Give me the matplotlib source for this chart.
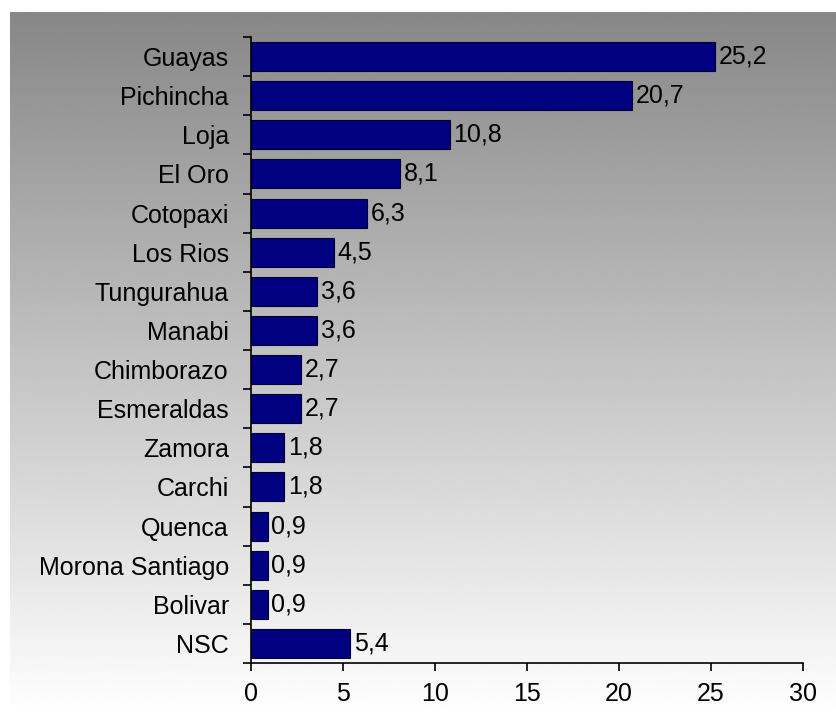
import matplotlib.pyplot as plt
import numpy as np

provinces = ["Guayas", "Pichincha", "Loja", "El Oro", "Cotopaxi", "Los Rios",
             "Tungurahua", "Manabi", "Chimborazo", "Esmeraldas", "Zamora",
             "Carchi", "Quenca", "Morona Santiago", "Bolivar", "NSC"]
percent = [25.2, 20.7, 10.8, 8.1, 6.3, 4.5, 3.6, 3.6, 2.7, 2.7, 1.8, 1.8,
           0.9, 0.9, 0.9, 5.4]
x_ticks = [0, 5, 10, 15, 20, 25, 30]

plt.rcParams["font.family"] = ["Liberation Sans", "DejaVu Sans"]
FS = 18

fig = plt.figure(figsize=(8.37, 7.15), dpi=100)

# grey-to-white vertical gradient behind the chart
bg = fig.add_axes([10 / 837, 0, 1 - 10 / 837, 1 - 12 / 715], zorder=0)
grad = np.linspace(0.53, 1.0, 256).reshape(-1, 1)
bg.imshow(grad, aspect="auto", cmap="gray", vmin=0, vmax=1,
          extent=[0, 1, 0, 1], origin="upper")
bg.set_axis_off()

ax = fig.add_axes([251 / 837, 1 - 663 / 715, (803 - 251) / 837, (663 - 37) / 715],
                  zorder=1)
ax.patch.set_alpha(0)

y = np.arange(len(provinces))
ax.barh(y, percent, height=0.74, color="#000080", edgecolor="#000030",
        linewidth=0.8)
for yi, v in zip(y, percent):
    ax.text(v + 0.2, yi, f"{v:.1f}".replace(".", ","), va="center",
            ha="left", fontsize=FS)

ax.set_xlim(0, 30)
ax.set_ylim(len(provinces) - 0.5, -0.5)
ax.set_xticks(x_ticks)
ax.set_xticklabels([str(t) for t in x_ticks], fontsize=FS)
ax.set_yticks(y)
ax.set_yticklabels(provinces, fontsize=FS)
ax.tick_params(axis="y", length=0, pad=16)
ax.set_yticks(np.arange(-0.5, len(provinces)), minor=True)
ax.tick_params(axis="y", which="minor", length=6, width=1.2)
ax.tick_params(axis="x", length=6, width=1.2, direction="out", pad=8)

for side in ("top", "right"):
    ax.spines[side].set_visible(False)
for side in ("left", "bottom"):
    ax.spines[side].set_linewidth(1.2)

fig.savefig("out.png", dpi=100)
